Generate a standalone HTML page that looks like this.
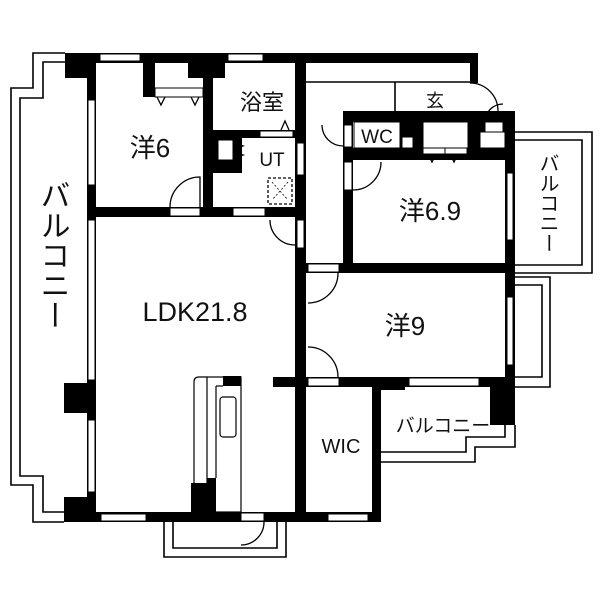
<!DOCTYPE html>
<html><head><meta charset="utf-8"><style>
html,body{margin:0;padding:0;background:#fff}
svg{display:block}
text{font-family:"Liberation Sans","Noto Sans CJK JP",sans-serif;fill:#111}
</style></head><body>
<svg width="600" height="600" viewBox="0 0 600 600" xmlns="http://www.w3.org/2000/svg">
<rect width="600" height="600" fill="#fff"/>
<g fill="none" stroke="#000" stroke-width="1.6">
<polyline points="65,53 33,53 33,88 11,88 11,485 33,485 33,522 64,522"/>
<polyline points="65,62 43,62 43,98 20,98 20,476 43,476 43,512 64,512"/>
<polyline points="515,132 592,132 592,273 515,273"/>
<polyline points="515,140 582,140 582,265 515,265"/>
<polyline points="515,277 550,277 550,387 515,387"/>
<polyline points="515,285 542,285 542,377 515,377"/>
<polyline points="381,462 475,462 475,447 515,447 515,425"/>
<polyline points="381,452 466,452 466,437 505,437 505,425"/>
<polyline points="164,522 164,557 286,557 286,522"/>
<polyline points="173,522 173,548 277,548 277,522"/>
<line x1="306" y1="82" x2="470" y2="82"/>
<line x1="395" y1="82" x2="395" y2="111"/>
</g>
<g fill="#000">
<rect x="65" y="53" width="413" height="10"/>
<rect x="65" y="53" width="31" height="25"/>
<rect x="87" y="53" width="9" height="469"/>
<rect x="64" y="383" width="32" height="30"/>
<rect x="64" y="497" width="32" height="25"/>
<rect x="64" y="512" width="317" height="10"/>
<rect x="143" y="53" width="12" height="44"/>
<rect x="188" y="53" width="37" height="25"/>
<rect x="203" y="53" width="10" height="164"/>
<rect x="213" y="130" width="87" height="8"/>
<rect x="213" y="137" width="29" height="36"/>
<rect x="88" y="207" width="212" height="10"/>
<rect x="295" y="53" width="11" height="469"/>
<rect x="470" y="53" width="8" height="30"/>
<rect x="343" y="111" width="172" height="11"/>
<rect x="343" y="111" width="10" height="162"/>
<rect x="343" y="148" width="162" height="12"/>
<rect x="400" y="122" width="23" height="38"/>
<rect x="468" y="111" width="12" height="49"/>
<rect x="480" y="111" width="25" height="21"/>
<rect x="505" y="122" width="10" height="303"/>
<rect x="306" y="263" width="209" height="10"/>
<rect x="273" y="377" width="242" height="10"/>
<rect x="372" y="377" width="33" height="13"/>
<rect x="490" y="377" width="25" height="48"/>
<rect x="372" y="377" width="9" height="145"/>
</g>
<g fill="#fff" stroke="#000" stroke-width="1">
<rect x="88" y="100" width="7" height="85"/>
<rect x="88" y="220" width="7" height="160"/>
<rect x="88" y="420" width="7" height="72"/>
<rect x="100" y="54" width="40" height="7"/>
<rect x="228" y="54" width="35" height="7"/>
<rect x="101" y="514" width="45" height="7"/>
<rect x="328" y="514" width="40" height="7"/>
<rect x="241" y="513" width="23" height="8"/>
<rect x="170" y="208" width="30" height="8"/>
<rect x="233" y="208" width="32" height="8"/>
<rect x="260" y="131" width="33" height="6"/>
<rect x="297" y="143" width="7" height="32"/>
<rect x="297" y="220" width="7" height="28"/>
<rect x="308" y="264" width="31" height="8"/>
<rect x="308" y="378" width="31" height="8"/>
<rect x="409" y="378" width="70" height="8"/>
<rect x="507" y="173" width="6" height="67"/>
<rect x="507" y="297" width="6" height="68"/>
<rect x="344" y="125" width="8" height="22"/>
<rect x="344" y="162" width="8" height="28"/>
<rect x="155" y="88" width="48" height="9"/>
<rect x="218" y="140" width="15" height="20"/>
<rect x="354" y="122" width="46" height="26"/>
<rect x="402" y="137" width="11" height="11"/>
<rect x="423" y="122" width="45" height="26"/>
<rect x="423" y="148" width="22" height="6"/>
<rect x="445" y="148" width="22" height="6"/>
<rect x="480" y="132" width="25" height="16"/>
<rect x="485" y="122" width="18" height="10"/>
</g>
<g fill="none" stroke="#000" stroke-width="1.2">
<path d="M194,512 V382 Q194,377 199,377 H207"/>
<rect x="207" y="377" width="34" height="135"/>
<line x1="216" y1="386" x2="216" y2="478"/>
<line x1="216" y1="386" x2="223" y2="386"/>
<rect x="220" y="397" width="16" height="40" rx="3"/>
</g>
<g fill="#000">
<rect x="191" y="483" width="25" height="29"/>
<rect x="207" y="478" width="9" height="34"/>
<rect x="223" y="376" width="18" height="10"/>
</g>
<g fill="none" stroke="#000" stroke-width="1.3">
<path d="M170,207 A30,30 0 0 1 200,177 V207"/>
<path d="M270,220 A25,25 0 0 0 295,245"/>
<path d="M338,273 A30,30 0 0 1 308,303"/>
<path d="M308,347 A30,30 0 0 1 338,377"/>
<path d="M381,162 A28,28 0 0 1 353,190"/>
<path d="M322,125 A21,21 0 0 0 343,146"/>
<path d="M470,83 A28,28 0 0 1 498,111"/>
<path d="M485,122 A18,18 0 0 1 503,104"/>
<path d="M264,522 A23,23 0 0 1 241,545"/>
<rect x="268" y="178" width="24" height="26" stroke-dasharray="3,2"/>
<path d="M272,182 L288,200 M288,182 L272,200" stroke-dasharray="2,2" stroke-width="0.8"/>
<path d="M157,97 L161,105 L165,97 M191,97 L195,105 L199,97"/>
<path d="M428,154 L432,162 L436,154 M450,154 L454,162 L458,154"/>
<path d="M281,130 L285,121 L289,130"/>
<path d="M233,143 L243,146 L233,150 M233,152 L243,155 L233,158"/>
</g>
<text x="150" y="157" font-size="26" text-anchor="middle">洋6</text>
<text x="262" y="110" font-size="22" text-anchor="middle">浴室</text>
<text x="272" y="166" font-size="19" text-anchor="middle">UT</text>
<text x="195" y="321" font-size="27" text-anchor="middle">LDK21.8</text>
<text x="430" y="220" font-size="26" text-anchor="middle">洋6.9</text>
<text x="405" y="335" font-size="26" text-anchor="middle">洋9</text>
<text x="435" y="107" font-size="18" text-anchor="middle">玄</text>
<text x="377" y="143" font-size="19" text-anchor="middle">WC</text>
<text x="341" y="453" font-size="20" text-anchor="middle">WIC</text>
<text x="443" y="432" font-size="19" text-anchor="middle">バルコニー</text>
<text x="52" y="180" font-size="30" writing-mode="tb">バルコニー</text>
<text x="547" y="153" font-size="20" writing-mode="tb">バルコニー</text>
</svg>
</body></html>
